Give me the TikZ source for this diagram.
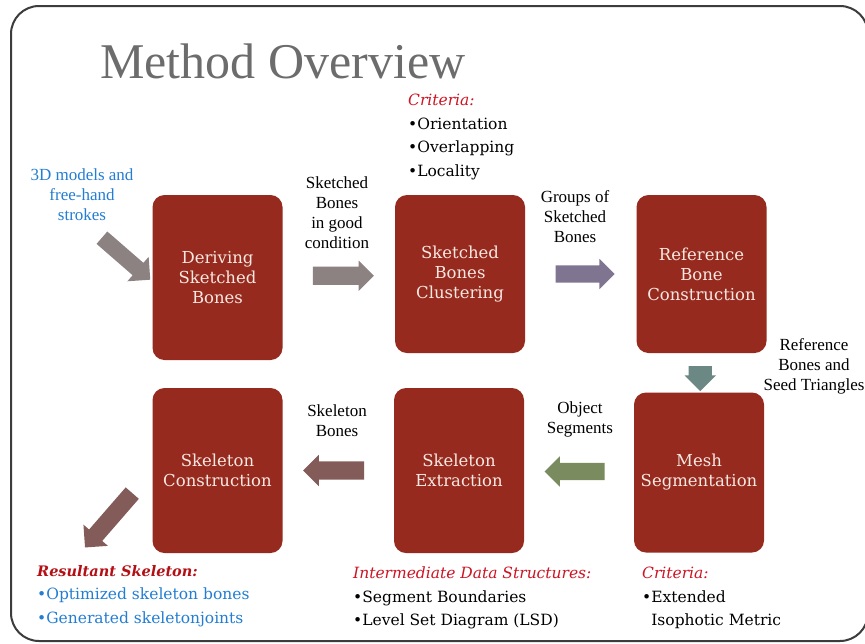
\documentclass[tikz,border=0pt]{standalone}
\usepackage{fontspec}
\setmainfont{Liberation Serif}
\newfontfamily\slabfont{DejaVu Serif}
\usetikzlibrary{calc,shapes.arrows}

\definecolor{boxred}{RGB}{150,42,30}
\definecolor{boxtext}{RGB}{248,232,226}
\definecolor{titlegray}{RGB}{108,108,108}
\definecolor{critred}{RGB}{205,20,35}
\definecolor{resred}{RGB}{180,15,20}
\definecolor{inblue}{RGB}{35,125,210}
\definecolor{arrgray}{RGB}{141,130,130}
\definecolor{arrpurple}{RGB}{128,117,145}
\definecolor{arrteal}{RGB}{108,136,132}
\definecolor{arrgreen}{RGB}{121,139,95}
\definecolor{arrbrown}{RGB}{131,91,88}
\definecolor{framegray}{RGB}{60,60,60}

\begin{document}
\begin{tikzpicture}[x=1pt, y=-1pt,
    stage/.style={fill=boxred, rounded corners=12pt, minimum width=130pt,
                  minimum height=160pt, align=center, text=boxtext,
                  font=\slabfont\fontsize{16.5}{20}\selectfont},
    flow/.style={single arrow, draw=none, inner xsep=0pt, inner ysep=9pt,
                 minimum height=60pt, single arrow head extend=6pt,
                 single arrow tip angle=90},
    note/.style={align=center, inner sep=0pt, font=\fontsize{17}{20}\selectfont},
    note list/.style={align=left, anchor=north west, inner sep=0pt,
                      font=\slabfont\fontsize{15.5}{23.5}\selectfont}
]
\useasboundingbox[fill=white] (0,0) rectangle (865,643);

% Slide frame and title
\draw[framegray, line width=2pt, rounded corners=28pt] (11,6) rectangle (868,641);
\node[anchor=base west, inner sep=0pt, text=titlegray,
      font=\fontsize{50}{60}\selectfont] (title) at (100,78) {Method Overview};

% Top row of stages, left to right
\node[stage, minimum height=165pt] (derive) at (217.5,277.5) {Deriving\\Sketched\\Bones};
\node[stage, minimum height=158pt] (cluster) at (460,274) {Sketched\\Bones\\Clustering};
\node[stage, minimum height=158pt] (refbone) at (701.5,274) {Reference\\Bone\\Construction};

% Bottom row of stages, right to left
\node[stage] (meshseg) at (699,472.5) {Mesh\\Segmentation};
\node[stage, minimum height=165pt] (skelext) at (459,470.5) {Skeleton\\Extraction};
\node[stage, minimum height=165pt] (skelcon) at (217.5,470.5) {Skeleton\\Construction};

% Block arrows between the stages
\node[flow, fill=arrgray, rotate=-41, minimum height=64pt, inner ysep=8pt,
      single arrow head extend=8pt] (a-in) at (123,256) {};
\node[flow, fill=arrgray, minimum height=61pt] (a-derive) at ($(derive.east)!0.5!(cluster.west)$) {};
\node[flow, fill=arrpurple, minimum height=59pt, inner ysep=8.5pt,
      single arrow head extend=6.5pt] (a-cluster) at ($(cluster.east)!0.5!(refbone.west)$) {};
\node[flow, fill=arrteal, rotate=-90, minimum height=25pt, inner ysep=11.5pt,
      single arrow head extend=4pt] (a-refbone) at ($(refbone.south)!0.5!(meshseg.north)$) {};
\node[flow, fill=arrgreen, rotate=180, inner ysep=8.5pt,
      single arrow head extend=6.5pt] (a-mesh) at ($(meshseg.west)!0.5!(skelext.east)$) {};
\node[flow, fill=arrbrown, rotate=180, minimum height=61pt,
      single arrow head extend=6.5pt] (a-skelext) at ($(skelext.west)!0.5!(skelcon.east)$) {};
\node[flow, fill=arrbrown, rotate=-131, minimum height=72pt, inner ysep=8.5pt,
      single arrow head extend=7.5pt] (a-out) at (111.5,517) {};

% Data passed along the arrows
\node[note, text=inblue] (lbl-input) at (82,195) {3D models and\\free-hand\\strokes};
\node[note] (lbl-good) at (337,213) {Sketched\\Bones\\in good\\condition};
\node[note] (lbl-groups) at (575,217) {Groups of\\Sketched\\Bones};
\node[note] (lbl-refseed) at (814,366) {Reference\\Bones and\\Seed Triangles};
\node[note] (lbl-segments) at (580,419) {Object\\Segments};
\node[note] (lbl-skelbones) at (337,421) {Skeleton\\Bones};

% Criteria and outputs
\node[note list] (list-cluster) at (408,94)
  {{\color{critred}\itshape Criteria:}\\\textbullet Orientation\\\textbullet Overlapping\\\textbullet Locality};
\node[note list] (list-result) at (37,565)
  {{\color{resred}\bfseries\itshape\fontsize{14.5}{23.5}\selectfont Resultant Skeleton:}\\
   {\color{inblue}\textbullet Optimized skeleton bones}\\
   {\color{inblue}\textbullet Generated skeletonjoints}};
\node[note list] (list-data) at (353,567)
  {{\color{critred}\itshape Intermediate Data Structures:}\\\textbullet Segment Boundaries\\\textbullet Level Set Diagram (LSD)};
\node[note list] (list-mesh) at (642,567)
  {{\color{critred}\itshape Criteria:}\\\textbullet Extended\\\phantom{\textbullet}Isophotic Metric};

\end{tikzpicture}
\end{document}
